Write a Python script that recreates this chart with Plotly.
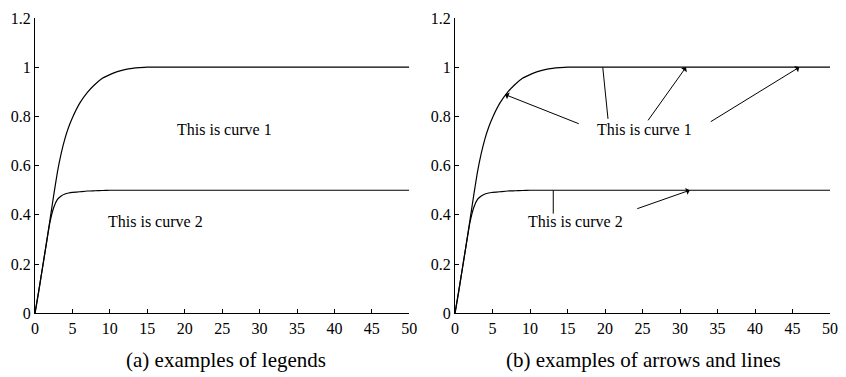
import plotly.graph_objects as go

# ---- data ----
t = [0, 0.5, 1, 1.5, 2, 2.5, 3, 3.5, 4, 4.5, 5, 6, 7, 8, 9, 10, 11, 12, 13, 14, 15, 17, 20, 30, 40, 50]
curve1 = [0, 0.09, 0.185, 0.28, 0.38, 0.48, 0.575, 0.65, 0.71, 0.757, 0.795, 0.855, 0.898, 0.93, 0.955, 0.97,
          0.982, 0.99, 0.995, 0.998, 1.0, 1.0, 1.0, 1.0, 1.0, 1.0]
curve2 = [0, 0.09, 0.185, 0.28, 0.37, 0.43, 0.463, 0.477, 0.485, 0.489, 0.491, 0.494, 0.497, 0.498, 0.499, 0.5,
          0.5, 0.5, 0.5, 0.5, 0.5, 0.5, 0.5, 0.5, 0.5, 0.5]

x_ticks = [0, 5, 10, 15, 20, 25, 30, 35, 40, 45, 50]
y_ticks = [0, 0.2, 0.4, 0.6, 0.8, 1.0, 1.2]
y_tick_text = ["0", "0.2", "0.4", "0.6", "0.8", "1", "1.2"]

label1_pos = (25.3, 0.745)
label2_pos = (16.1, 0.372)
label_texts = ["This is curve 1", "This is curve 2"]
captions = ["(a) examples of legends", "(b) examples of arrows and lines"]

# arrows: (head_x, head_y, tail_x, tail_y)
arrows = [
    (6.67, 0.889, 16.7, 0.768),
    (30.8, 1.0, 25.6, 0.778),
    (45.9, 1.0, 33.9, 0.775),
    (31.3, 0.5, 24.1, 0.423),
]
# plain lines: (x0, y0, x1, y1)
lines = [
    (19.7, 1.0, 20.4, 0.79),
    (13.1, 0.5, 13.1, 0.405),
]

FONT = "Liberation Serif"
OFF = 8  # page body margin
W, H = 846 - OFF, 377 - OFF


def px(v):
    return (v - OFF) / W


def py(v):
    return 1 - (v - OFF) / H


fig = go.Figure()
for xa, ya in [("x", "y"), ("x2", "y2")]:
    for c in (curve1, curve2):
        fig.add_trace(go.Scatter(x=t, y=c, mode="lines", xaxis=xa, yaxis=ya,
                                 line=dict(color="black", width=1.2, shape="spline", smoothing=0.5),
                                 showlegend=False, hoverinfo="skip"))

ydom = [py(313.3), py(18)]
axis_common = dict(range=[0, 50], tickvals=x_ticks, ticks="inside", ticklen=4, tickcolor="black",
                   showline=True, linecolor="black", linewidth=1, showgrid=False, zeroline=False,
                   automargin=False, tickfont=dict(family=FONT, size=16, color="black"))
yaxis_common = dict(range=[0, 1.2], tickvals=y_ticks, ticktext=y_tick_text, ticks="inside", ticklen=4,
                    tickcolor="black", showline=True, linecolor="black", linewidth=1, showgrid=False,
                    zeroline=False, domain=ydom, automargin=False,
                    tickfont=dict(family=FONT, size=16, color="black"))

fig.update_layout(
    width=W, height=H,
    margin=dict(l=0, r=0, t=0, b=0, autoexpand=False),
    paper_bgcolor="white", plot_bgcolor="white",
    font=dict(family=FONT, color="black"),
    xaxis=dict(domain=[px(35), px(409.3)], anchor="y", **axis_common),
    yaxis=dict(anchor="x", **yaxis_common),
    xaxis2=dict(domain=[px(455), px(830)], anchor="y2", **axis_common),
    yaxis2=dict(anchor="x2", **yaxis_common),
)

ann = []
for xr, yr in [("x", "y"), ("x2", "y2")]:
    ann.append(dict(x=label1_pos[0], y=label1_pos[1], xref=xr, yref=yr, text=label_texts[0], showarrow=False,
                    font=dict(family=FONT, size=16, color="black")))
    ann.append(dict(x=label2_pos[0], y=label2_pos[1], xref=xr, yref=yr, text=label_texts[1], showarrow=False,
                    font=dict(family=FONT, size=16, color="black")))

for hx, hy, tx, ty in arrows:
    ann.append(dict(x=hx, y=hy, xref="x2", yref="y2", ax=tx, ay=ty, axref="x2", ayref="y2", text="",
                    showarrow=True, arrowhead=1, arrowsize=1.2, arrowwidth=1, arrowcolor="black", standoff=0))

ann.append(dict(x=px((35 + 409.3) / 2 + 4), y=py(360), xref="paper", yref="paper", text=captions[0],
                xanchor="center", yanchor="middle", showarrow=False,
                font=dict(family=FONT, size=21, color="black")))
ann.append(dict(x=px((455 + 830) / 2 + 1), y=py(360), xref="paper", yref="paper", text=captions[1],
                xanchor="center", yanchor="middle", showarrow=False,
                font=dict(family=FONT, size=21, color="black")))
fig.update_layout(annotations=ann)

for x0, y0, x1, y1 in lines:
    fig.add_shape(type="line", x0=x0, y0=y0, x1=x1, y1=y1, xref="x2", yref="y2",
                  line=dict(color="black", width=1))

fig.write_html("out.html")
